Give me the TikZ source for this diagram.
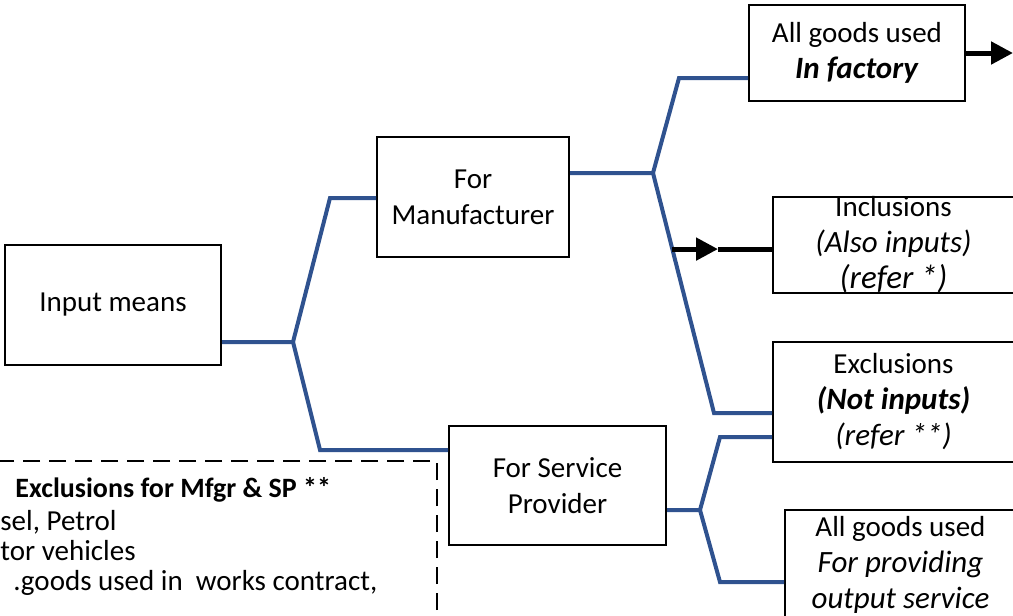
\documentclass[tikz,border=0pt]{standalone}
\usepackage{fontspec}
\setmainfont{Carlito}
\usepackage{xcolor}
\usepackage{tikz}
\usetikzlibrary{arrows.meta,calc}
\definecolor{linkblue}{RGB}{47,82,143}
\newcommand{\slanted}[1]{{\fontsize{15.5}{18}\selectfont\itshape #1}}

\begin{document}
\begin{tikzpicture}[x=0.5pt,y=-0.5pt,
  font=\fontsize{14.5}{18}\selectfont,
  box/.style={draw,line width=1pt,align=center,inner sep=0pt},
  link/.style={linkblue,line width=2pt},
  arr/.style={line width=2.5pt,-{Triangle[length=11pt,width=11pt]}},
  notebox/.style={line width=1.2pt,dash pattern=on 8.5pt off 4.5pt},
  note/.style={anchor=base west,inner sep=0pt}]
\useasboundingbox (0,0) rectangle (1013,616);
\clip (0,0) rectangle (1013,616);
% boxes
\node[box,minimum width=108pt,minimum height=60pt] (in) at (113,305) {Input means};
\node[box,minimum width=96pt,minimum height=60pt] (mf) at (473,197) {For\\Manufacturer};
\node[box,minimum width=108.5pt,minimum height=59.5pt] (sp) at (557.5,485.5) {For Service\\Provider};
\node[box,minimum width=108pt,minimum height=48pt] (fac) at (857,53) {All goods used\\\textbf{\slanted{In factory}}};
\node[box,minimum width=120.5pt,minimum height=48pt] (inc) at (893.5,245) {Inclusions\\\slanted{(Also inputs)}\\{\fontsize{16.5}{18}\selectfont\itshape (refer *)}};
\node[box,minimum width=120.5pt,minimum height=60pt] (exc) at (893.5,402) {Exclusions\\\textbf{\slanted{(Not inputs)}}\\\slanted{(refer **)}};
\node[box,minimum width=115.5pt,minimum height=55pt] (sv) at (900.5,565) {All goods used\\\slanted{For providing}\\\slanted{output service}};
% branch points
\coordinate (j1) at (293,342);
\coordinate (k1) at (330,198);
\coordinate (k2) at (320,450);
\coordinate (j2) at (653,173);
\coordinate (k3) at (679,78);
\coordinate (k4) at (714,413);
\coordinate (j3) at (700,510);
\coordinate (k5) at (720,437);
\coordinate (k6) at (720,582);
% input split
\draw[link] (in.east |- j1) -- (j1) -- (k1) -- (mf.west |- k1);
\draw[link] (j1) -- (k2) -- (sp.west |- k2);
% manufacturer split
\draw[link] (mf.east |- j2) -- (j2) -- (k3) -- (fac.west |- k3);
\draw[link] (j2) -- (k4) -- (exc.west |- k4);
% service provider split
\draw[link] (sp.east |- j3) -- (j3) -- (k5) -- (exc.west |- k5);
\draw[link] (j3) -- (k6) -- (sv.west |- k6);
% arrows
\coordinate (a1) at ($(j2)!0.317!(k4)$);
\coordinate (a2) at (718,249);
\draw[arr] (a1) -- (a1 -| a2);
\draw[line width=2.5pt] (a1 -| a2) -- (inc.west |- a1);
\coordinate (a3) at (1013,53);
\draw[arr] (fac.east) -- (a3);
% exclusions note
\draw[notebox] (-10,461) rectangle (437,650);
\node[note] (n1) at (15,497) {\fontsize{14}{16}\selectfont\bfseries Exclusions for Mfgr \& SP **};
\node[note] (n2) at (0,530) {sel, Petrol};
\node[note] (n3) at (0,560) {tor vehicles};
\node[note] (n4) at (13,590) {.goods used in\ \ works contract,};
\end{tikzpicture}
\end{document}
